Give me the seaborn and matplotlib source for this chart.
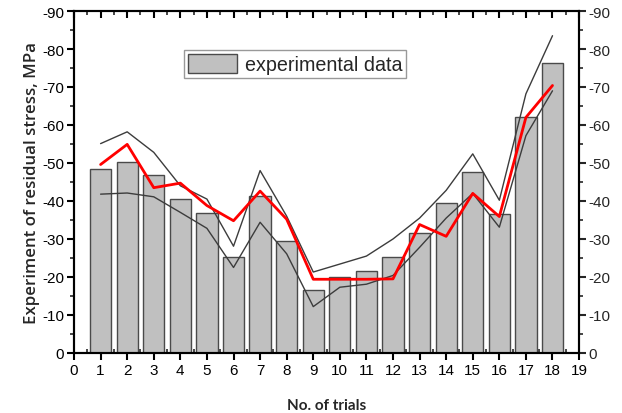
import matplotlib
matplotlib.use("Agg")
import matplotlib.pyplot as plt
import seaborn as sns
import numpy as np
from matplotlib.ticker import MultipleLocator

trials = [1, 2, 3, 4, 5, 6, 7, 8, 9, 10, 11, 12, 13, 14, 15, 16, 17, 18]
experimental = [-48.4, -50.2, -46.9, -40.4, -36.8, -25.2, -41.2, -29.4, -16.6, -20.1,
                -21.5, -25.2, -31.5, -39.4, -47.5, -36.7, -62.0, -76.3]
predicted = [-49.6, -54.9, -43.5, -44.7, -38.8, -34.8, -42.6, -35.2, -19.4, -19.4,
             -19.4, -19.5, -33.8, -30.7, -42.0, -35.9, -62.0, -70.4]
upper_bound = [-55.1, -58.2, -52.8, -44.0, -40.5, -28.1, -48.0, -36.0, -21.3, -23.4,
               -25.5, -30.0, -35.5, -42.8, -52.4, -40.2, -68.2, -83.5]
lower_bound = [-41.8, -42.1, -41.1, -37.0, -32.8, -22.5, -34.4, -26.1, -12.2, -17.3,
               -18.1, -20.4, -27.8, -35.5, -42.0, -33.1, -57.2, -69.0]
y_ticks = [0, -10, -20, -30, -40, -50, -60, -70, -80, -90]
x_ticks = list(range(0, 20))

sns.set_style("white")
plt.rcParams["font.family"] = ["Liberation Sans", "DejaVu Sans"]
plt.rcParams["axes.unicode_minus"] = False

fig = plt.figure(figsize=(6.22, 4.14), dpi=100)
ax = fig.add_axes([0.119, 0.145, 0.812, 0.826])

sns.barplot(x=trials, y=experimental, native_scale=True, width=0.8,
            color="#c0c0c0", saturation=1, edgecolor="#4a4a4a", linewidth=1.0,
            label="experimental data", ax=ax)
sns.lineplot(x=trials, y=upper_bound, color="#3c3c3c", linewidth=1.0, ax=ax)
sns.lineplot(x=trials, y=lower_bound, color="#3c3c3c", linewidth=1.0, ax=ax)
sns.lineplot(x=trials, y=predicted, color="#ff0000", linewidth=2.0, ax=ax)

ax.set_xlim(0, 19)
ax.set_ylim(0, -90)
ax.set_xticks(x_ticks)
ax.set_xticklabels([str(t) for t in x_ticks])
ax.xaxis.set_minor_locator(MultipleLocator(0.5))
ax.set_yticks(y_ticks)
ax.set_yticklabels([str(v) for v in y_ticks])
ax.yaxis.set_minor_locator(MultipleLocator(5))

for s in ax.spines.values():
    s.set_visible(True)
    s.set_color("black")
    s.set_linewidth(1.5)

ax.tick_params(axis="both", which="major", labelsize=11, colors="black")
ax.tick_params(axis="x", which="major", direction="out", length=5, width=1.5,
               bottom=True, top=True, pad=2)
ax.tick_params(axis="x", which="minor", direction="in", length=3, width=1.2,
               bottom=True, top=True)
ax.tick_params(axis="y", which="major", direction="out", length=5, width=1.5, left=True, pad=2)
ax.tick_params(axis="y", which="minor", direction="out", length=3, width=1.2, left=True)
ax.tick_params(axis="x", which="major", top=True, labeltop=False)
for t in ax.xaxis.get_major_ticks():
    t.tick2line.set_marker(3)  # top ticks pointing into axes

ax2 = ax.twinx()
ax2.set_ylim(0, -90)
ax2.set_yticks(y_ticks)
ax2.set_yticklabels([str(v) for v in y_ticks])
ax2.yaxis.set_minor_locator(MultipleLocator(5))
ax2.tick_params(axis="y", which="major", direction="out", length=5, width=1.5,
                labelsize=11, pad=2, right=True)
ax2.tick_params(axis="y", which="minor", direction="out", length=3, width=1.2, right=True)
for s in ax2.spines.values():
    s.set_linewidth(1.5)
    s.set_color("black")

ax.set_xlabel("No. of trials", fontsize=11, fontweight="bold",
              family=["Lato", "DejaVu Sans"], labelpad=15)
ax.set_ylabel("Experiment of residual stress, MPa", fontsize=12.2,
              family=["Open Sans", "DejaVu Sans"], fontweight="semibold", labelpad=2)

leg = ax.legend(loc="upper left", bbox_to_anchor=(0.218, 0.885), borderaxespad=0,
                fancybox=False, edgecolor="#999999", framealpha=1, fontsize=14.2,
                handlelength=2.5, handleheight=1.15, handletextpad=0.4,
                borderpad=0.18)
leg.get_frame().set_linewidth(1.0)

fig.savefig("out.png", dpi=100)
